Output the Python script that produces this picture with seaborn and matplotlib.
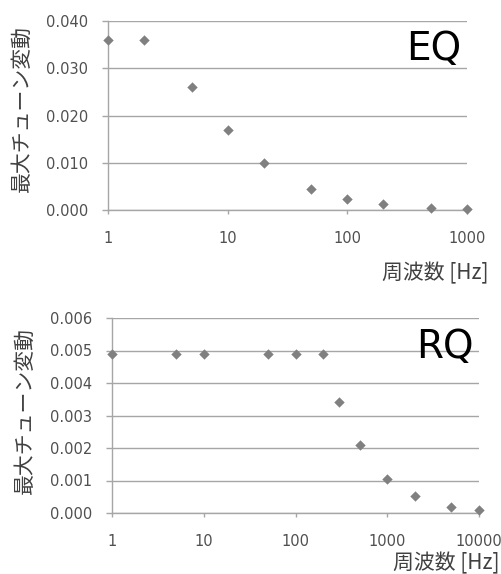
import numpy as np
import pandas as pd
import matplotlib
matplotlib.use('Agg')
import matplotlib.pyplot as plt
import seaborn as sns
from matplotlib.ticker import FixedLocator, FixedFormatter, NullLocator, FormatStrFormatter

# EQ data
eq_freq = [1, 2, 5, 10, 20, 50, 100, 200, 500, 1000]
eq_val = [0.0360, 0.0360, 0.0260, 0.0169, 0.0099, 0.0044, 0.0023, 0.0012, 0.0005, 0.0002]

# RQ data
rq_freq = [1, 5, 10, 50, 100, 200, 300, 500, 1000, 2000, 5000, 10000]
rq_val = [0.0049, 0.0049, 0.0049, 0.0049, 0.0049, 0.0049, 0.00343, 0.00208, 0.00104, 0.00051, 0.000195, 0.00009]

eq_yticks = [0.000, 0.010, 0.020, 0.030, 0.040]
rq_yticks = [0.000, 0.001, 0.002, 0.003, 0.004, 0.005, 0.006]
eq_xticks = [1, 10, 100, 1000]
rq_xticks = [1, 10, 100, 1000, 10000]

ylabel = '最大チューン変動'
xlabel = '周波数 [Hz]'

sns.set_theme(style='white')
plt.rcParams['font.family'] = ['DejaVu Sans', 'Noto Sans CJK JP']

GRID = '#a6a6a6'
MARK = '#808080'
TXT = '#404040'
JP = ['Noto Sans CJK JP', 'DejaVu Sans']

W, H = 501, 574
fig = plt.figure(figsize=(W / 100, H / 100), dpi=100)


def make_axes(left, right, top, bottom):
    return fig.add_axes([left / W, 1 - bottom / H, (right - left) / W, (bottom - top) / H])


def style_axes(ax, xticks, yticks, tag):
    ax.set_xscale('log')
    ax.set_xlim(xticks[0], xticks[-1])
    ax.set_ylim(yticks[0], yticks[-1])
    ax.xaxis.set_major_locator(FixedLocator(xticks))
    ax.xaxis.set_major_formatter(FixedFormatter([str(t) for t in xticks]))
    ax.xaxis.set_minor_locator(NullLocator())
    ax.set_yticks(yticks)
    ax.yaxis.set_major_formatter(FormatStrFormatter('%.3f'))
    ax.grid(True, axis='y', color=GRID, linewidth=1)
    ax.grid(False, axis='x')
    for s in ['top', 'right']:
        ax.spines[s].set_visible(False)
    for s in ['left', 'bottom']:
        ax.spines[s].set_color(GRID)
        ax.spines[s].set_linewidth(1)
    ax.tick_params(axis='y', length=4.5, width=1, color=GRID, pad=10,
                   labelsize=10.5, labelcolor='#505050', left=True)
    ax.tick_params(axis='x', length=3, width=1, color=GRID, pad=12,
                   labelsize=10.5, labelcolor='#505050', bottom=True)
    ax.set_xlabel('')
    ax.set_ylabel('')
    ax.text(0.985, 0.85, tag, transform=ax.transAxes, ha='right', va='center',
            fontsize=28, color='black')
    ax.set_axisbelow(True)


# top: EQ
ax1 = make_axes(108, 467, 21, 210)
df_eq = pd.DataFrame({'freq': eq_freq, 'val': eq_val})
sns.scatterplot(data=df_eq, x='freq', y='val', marker='D', s=28, color=MARK,
                edgecolor=MARK, linewidth=0, ax=ax1, clip_on=False, zorder=3)
style_axes(ax1, eq_xticks, eq_yticks, 'EQ')
fig.text(22 / W, 1 - 109 / H, ylabel, rotation=90, ha='center', va='center',
         fontsize=15, color=TXT, family=JP)
fig.text(489 / W, 1 - 273 / H, xlabel, ha='right', va='center',
         fontsize=15, color=TXT, family=JP)

# bottom: RQ
ax2 = make_axes(112, 479, 318, 513)
df_rq = pd.DataFrame({'freq': rq_freq, 'val': rq_val})
sns.scatterplot(data=df_rq, x='freq', y='val', marker='D', s=28, color=MARK,
                edgecolor=MARK, linewidth=0, ax=ax2, clip_on=False, zorder=3)
style_axes(ax2, rq_xticks, rq_yticks, 'RQ')
fig.text(25 / W, 1 - 410 / H, ylabel, rotation=90, ha='center', va='center',
         fontsize=15, color=TXT, family=JP)
fig.text(500 / W, 1 - 563 / H, xlabel, ha='right', va='center',
         fontsize=15, color=TXT, family=JP)

fig.savefig('out.png', dpi=100)
